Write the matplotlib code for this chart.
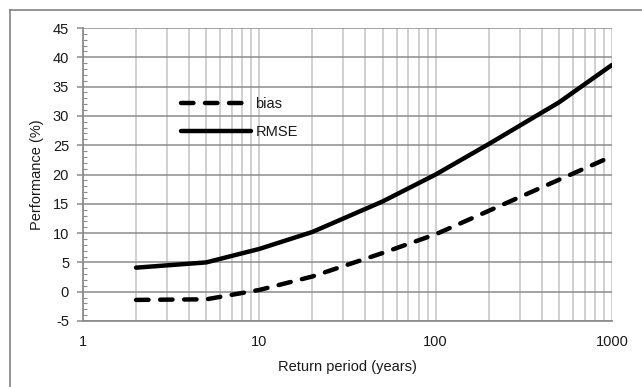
import matplotlib
matplotlib.use("Agg")
import matplotlib.pyplot as plt
from matplotlib.lines import Line2D
from matplotlib.ticker import LogLocator, FixedLocator, MultipleLocator, NullFormatter

plt.rcParams['font.family'] = ['Liberation Sans', 'DejaVu Sans']
plt.rcParams['axes.unicode_minus'] = False

# Return periods and performance statistics
return_period = [2, 5, 10, 20, 50, 100, 200, 500, 1000]
bias = [-1.4, -1.3, 0.3, 2.6, 6.6, 9.8, 13.8, 19.1, 23.1]
rmse = [4.1, 5.0, 7.3, 10.2, 15.4, 20.0, 25.2, 32.3, 38.7]

y_ticks = list(range(-5, 50, 5))
x_ticks = [1, 10, 100, 1000]
x_tick_labels = ['1', '10', '100', '1000']

W, H = 642, 387
fig = plt.figure(figsize=(W / 100, H / 100), dpi=100)
ax = fig.add_axes([83 / W, 1 - 321 / H, (612 - 83) / W, (321 - 28) / H])

fs = 10.5
text_color = '#1a1a1a'
hgrid = '#8c8c8c'
vgrid = '#c4c4c4'

ax.set_xscale('log')
ax.set_xlim(1, 1000)
ax.set_ylim(-5, 45)

# grid: horizontal major lines, vertical lines at every log subdivision
ax.xaxis.set_major_locator(FixedLocator(x_ticks))
ax.xaxis.set_minor_locator(LogLocator(base=10, subs=range(2, 10)))
ax.xaxis.set_minor_formatter(NullFormatter())
ax.set_xticklabels(x_tick_labels)
ax.yaxis.set_major_locator(FixedLocator(y_ticks))
ax.yaxis.set_minor_locator(MultipleLocator(1))

ax.grid(True, which='major', axis='y', color=hgrid, lw=1.1, zorder=0)
ax.grid(True, which='both', axis='x', color=vgrid, lw=1.1, zorder=0)
ax.set_axisbelow(True)

for side in ['top', 'right']:
    ax.spines[side].set_visible(False)
for side in ['left', 'bottom']:
    ax.spines[side].set_color(hgrid)
    ax.spines[side].set_linewidth(1.3)

ax.tick_params(axis='y', which='major', direction='out', length=4, width=1.1,
               color=hgrid, labelsize=fs, labelcolor=text_color, pad=6)
ax.tick_params(axis='y', which='minor', direction='in', length=3, width=0.8,
               color=hgrid)
ax.tick_params(axis='x', which='major', direction='out', length=0,
               labelsize=fs, labelcolor=text_color, pad=10)
ax.tick_params(axis='x', which='minor', length=0)

dash = (2.8, 2.6)
ax.plot(return_period, bias, color='black', lw=3.2, linestyle=(0, dash),
        dash_capstyle='round', solid_capstyle='round', zorder=3, label='bias')
ax.plot(return_period, rmse, color='black', lw=3.2, solid_capstyle='round',
        zorder=3, label='RMSE')

ax.set_xlabel('Return period (years)', fontsize=fs, color=text_color, labelpad=8)
ax.set_ylabel('Performance (%)', fontsize=fs, color=text_color, labelpad=6)

leg = ax.legend(loc='upper left', bbox_to_anchor=((181 - 83) / (612 - 83), 1 - (97 - 28) / (321 - 28)),
                frameon=False, fontsize=fs, handlelength=4.8, handletextpad=0.3,
                labelspacing=0.95, borderaxespad=0, borderpad=0)
for t in leg.get_texts():
    t.set_color(text_color)

# outer chart border (top and left edges)
fig.add_artist(Line2D([9.5 / W, 9.5 / W], [0, 1 - 10 / H], color='#8c8c8c', lw=1.3,
                      transform=fig.transFigure))
fig.add_artist(Line2D([9.5 / W, 1], [1 - 10 / H, 1 - 10 / H], color='#8c8c8c', lw=1.3,
                      transform=fig.transFigure))

fig.savefig('out.png', dpi=100, facecolor='white')
